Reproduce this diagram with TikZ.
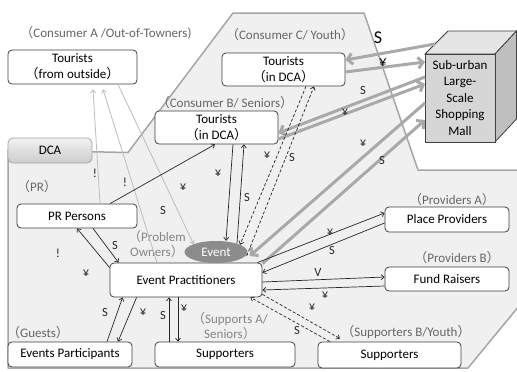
\documentclass[tikz,border=0pt]{standalone}
\usepackage{fontspec}
\setmainfont{Carlito}
\newfontfamily\cjkf{Noto Sans CJK JP}
\usetikzlibrary{arrows.meta,shapes.geometric}
% full-width brackets
\newcommand\flp{{\cjkf （}}
\newcommand\frp{{\cjkf ）}}
\definecolor{regionfill}{HTML}{F0F0F0}
\definecolor{regionline}{HTML}{A6A6A6}
\definecolor{boxline}{HTML}{404040}
\definecolor{tagtext}{HTML}{666666}
\definecolor{tagsoft}{HTML}{858585}
\definecolor{thickgray}{HTML}{A9A9A9}
\definecolor{faint}{HTML}{BDBDBD}
\definecolor{ink}{HTML}{262626}
\definecolor{eventfill}{HTML}{8C8C8C}

\begin{document}
\begin{tikzpicture}[x=1pt,y=-1pt,
  box/.style={draw=boxline, line width=0.8pt, fill=white, rounded corners=4pt,
    inner sep=0pt, align=center, font=\fontsize{13}{16}\selectfont},
  tag/.style={text=tagtext, inner sep=0pt, align=center, font=\fontsize{13}{15}\selectfont},
  lab/.style={text=ink, inner sep=0pt, font=\fontsize{12.5}{14}\selectfont},
  biglab/.style={text=black, inner sep=0pt, font=\fontsize{18}{18}\selectfont},
  darr/.style={draw=ink, line width=0.7pt, -{Straight Barb[length=3pt,width=5pt]}},
  dasharr/.style={darr, dash pattern=on 3pt off 2pt},
  farr/.style={draw=faint, line width=0.8pt, -{Straight Barb[length=3pt,width=5pt]}},
  garr/.style={draw=thickgray, line width=3pt, -{Straight Barb[length=5pt,width=11pt]}},
]
\useasboundingbox (0,0) rectangle (517,372);
\fill[white] (0,0) rectangle (517,372);

% DCA area
\filldraw[fill=regionfill, draw=regionline, line width=1.5pt, line join=round]
  (8,368) -- (8,150) -- (128,152.5) -- (233,13) -- (364,13) -- (418,170)
  -- (519,170) -- (519,306) -- (468,368) -- cycle;

% shopping mall block
\filldraw[fill=white!90!black, draw=boxline, line width=0.8pt]
  (425,54) -- (448,31) -- (516.5,31) -- (495,54) -- cycle;
\filldraw[fill=white!75!black, draw=boxline, line width=0.8pt]
  (495,54) -- (516.5,31) -- (516.5,119) -- (495,142) -- cycle;
\node[draw=boxline, line width=0.8pt, fill=white!84!black, minimum width=70pt,
  minimum height=88pt, inner sep=0pt, align=center,
  font=\fontsize{13}{16.5}\selectfont] (mall) at (460,98)
  {Sub-urban\\Large-\\Scale\\Shopping\\Mall};
\coordinate (m1) at (435,44);
\coordinate (m2) at (425,62);
\coordinate (m3) at (425,77);
\coordinate (m4) at (425,84);
\coordinate (m5) at (425,103);
\coordinate (m6) at (425,120);

% group tags
\node[tag] at (106,33) {\flp Consumer A /Out-of-Towners)};
\node[tag] at (290,35) {\flp Consumer C/ Youth\frp};
\node[tag] at (225,103) {\flp Consumer B/ Seniors\frp};
\node[tag] at (37,187) {\flp PR\frp};
\node[tag, text=tagsoft] at (157,244.5) {\flp Problem\\Owners\frp};
\node[tag] at (452,200) {\flp Providers A\frp};
\node[tag] at (457,258) {\flp Providers B\frp};
\node[tag] at (38,333) {\flp Guests\frp};
\node[tag, text=tagsoft] at (230,326.5) {\flp Supports A/\\Seniors\frp};
\node[tag] at (406,332) {\flp Supporters B/Youth\frp};

% actors
\node[box, minimum width=129pt, minimum height=34pt] (tout) at (72.5,67) {Tourists\\\flp from outside\frp};
\node[box, minimum width=123pt, minimum height=33pt] (tc) at (283.5,69.5) {Tourists\\\flp in DCA\frp};
\node[box, minimum width=123pt, minimum height=33pt] (tb) at (216.5,127.5) {Tourists\\\flp in DCA\frp};
\node[box, draw=regionline, top color=white!95!black, bottom color=white!80!black,
  rounded corners=5pt, minimum width=84pt, minimum height=25pt] (dca) at (50,150.5) {DCA};
\node[box, minimum width=120pt, minimum height=24pt] (pr) at (77,216) {PR Persons};
\node[box, minimum width=152pt, minimum height=34pt] (ep) at (186,280) {Event Practitioners};
\node[box, minimum width=124pt, minimum height=25pt] (pp) at (447,219.5) {Place Providers};
\node[box, minimum width=124pt, minimum height=24pt] (fr) at (447,279) {Fund Raisers};
\node[box, minimum width=124pt, minimum height=25pt] (evp) at (70,354.5) {Events Participants};
\node[box, minimum width=140pt, minimum height=25pt] (supa) at (225,354.5) {Supporters};
\node[box, minimum width=143pt, minimum height=26pt] (supb) at (389.5,355) {Supporters};
\node[ellipse, fill=eventfill, text=white, minimum width=63pt, minimum height=22pt,
  inner sep=0pt, font=\fontsize{13}{14}\selectfont] (event) at (216,252) {Event};

% out-of-town tourists (light lines)
\draw[farr] ([xshift=23pt]pr.north) -- ([xshift=20.5pt,yshift=-5pt]tout.south);
\draw[farr] ([xshift=-29pt]ep.north) -- ([xshift=30.5pt,yshift=-5pt]tout.south);
\draw[farr] ([xshift=45.5pt]tout.south) -- (event.north west);

% flows with the mall
\draw[garr] (m1) -- ([yshift=9.5pt]tc.east);
\draw[garr] ([yshift=-2.5pt]tc.east) -- (m2);
\draw[garr] (m3) -- ([yshift=-5.5pt]tb.east);
\draw[garr] ([yshift=-11.5pt]tb.east) -- (m4);
\draw[garr] (m5) -- ([xshift=2pt,yshift=-4pt]event.east);
\draw[garr] ([yshift=-1pt]ep.north east) -- (m6);

% flows between actors
\draw[darr] ([xshift=33pt]pr.north) -- ([xshift=-1.5pt]tb.south);
\draw[darr] ([xshift=16.5pt]tb.south) -- ([xshift=10pt]event.north);
\draw[darr] ([xshift=21pt,yshift=-2.8pt]event.north) -- ([xshift=27.5pt]tb.south);
\draw[dasharr] ([xshift=22.5pt]tc.south) -- ([xshift=24pt,yshift=-4pt]event.north);
\draw[dasharr] ([xshift=-1pt,yshift=-4pt]event.east) -- ([xshift=30.5pt]tc.south);
\draw[darr] ([yshift=-5pt]ep.north west) -- (pr.south);
\draw[darr] ([xshift=16pt]pr.south) -- ([xshift=9pt]ep.north west);
\draw[darr] ([xshift=37pt]evp.north) -- ([xshift=13pt]ep.south west);
\draw[darr] ([xshift=27pt]ep.south west) -- ([xshift=48pt]evp.north);
\draw[darr] ([xshift=-56pt]supa.north) -- ([xshift=-17pt]ep.south);
\draw[darr] ([xshift=-8pt]ep.south) -- ([xshift=-47pt]supa.north);
\draw[dasharr] ([xshift=-59.5pt]supb.north) -- ([xshift=-12pt]ep.south east);
\draw[dasharr] ([yshift=3pt]ep.south east) -- ([xshift=-49.5pt,yshift=3pt]supb.north);
\draw[darr] ([xshift=-5pt]ep.north east) -- ([yshift=6.5pt]pp.west);
\draw[darr] ([yshift=-3.5pt]pp.west) -- ([yshift=-10pt]ep.north east);
\draw[darr] ([yshift=-2pt]ep.east) -- ([yshift=2pt]fr.west);
\draw[darr] ([yshift=-7pt]fr.west) -- ([yshift=-10pt]ep.east);

% flow labels
\node[lab] at (95,173) {!};
\node[lab] at (125,182) {!};
\node[lab] at (58,253) {!};
\node[lab] at (163,210) {S};
\node[lab] at (183,187) {¥};
\node[lab] at (218,173) {¥};
\node[lab] at (247,197) {S};
\node[lab] at (267,155) {¥};
\node[lab] at (292,157) {S};
\node[lab] at (115,245) {S};
\node[lab] at (86,273) {¥};
\node[lab] at (105,312) {S};
\node[lab] at (143,312) {¥};
\node[lab] at (163,315) {S};
\node[lab] at (184,308) {¥};
\node[lab] at (312,307) {¥};
\node[lab] at (297,330) {S};
\node[lab] at (330,232) {¥};
\node[lab] at (332,250) {S};
\node[lab] at (318,272) {V};
\node[lab] at (325,295) {¥};
\node[biglab] at (378,38) {S};
\node[biglab, font=\fontsize{15}{16}\selectfont] at (383,63) {¥};
\node[lab] at (363,90) {S};
\node[lab] at (345,112) {¥};
\node[lab] at (363,143) {¥};
\node[lab] at (382,160) {S};
\end{tikzpicture}
\end{document}
